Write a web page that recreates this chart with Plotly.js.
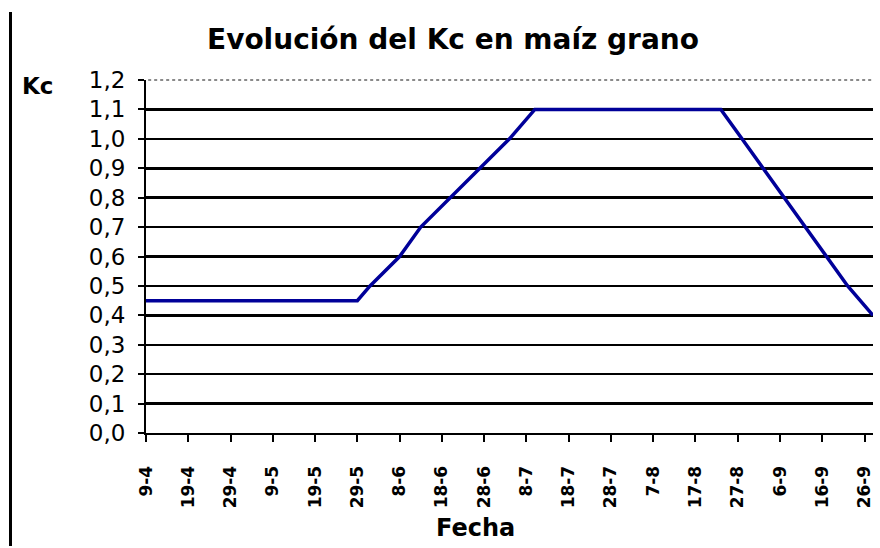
<!DOCTYPE html>
<html>
<head>
<meta charset="utf-8">
<script src="https://cdn.plot.ly/plotly-3.0.1.min.js"></script>
<style>html,body{margin:0;padding:0;background:#fff;}#chart{width:880px;height:548px;}</style>
</head>
<body>
<div id="chart"></div>
<script>
// Dates (year arbitrary, not shown) and Kc values
const fecha = ["2003-04-09","2003-05-29","2003-06-01","2003-06-08","2003-06-13","2003-06-20","2003-06-27","2003-07-04","2003-07-10","2003-08-23","2003-08-28","2003-09-02","2003-09-07","2003-09-12","2003-09-17","2003-09-22","2003-09-28"];
const kc = [0.45,0.45,0.50,0.60,0.70,0.80,0.90,1.00,1.10,1.10,1.00,0.90,0.80,0.70,0.60,0.50,0.40];

// Category tick positions and labels
const tickDates = ["2003-04-09","2003-04-19","2003-04-29","2003-05-09","2003-05-19","2003-05-29","2003-06-08","2003-06-18","2003-06-28","2003-07-08","2003-07-18","2003-07-28","2003-08-07","2003-08-17","2003-08-27","2003-09-06","2003-09-16","2003-09-26"];
const tickLabels = ["9-4","19-4","29-4","9-5","19-5","29-5","8-6","18-6","28-6","8-7","18-7","28-7","7-8","17-8","27-8","6-9","16-9","26-9"];
const xRange = ["2003-04-09","2003-09-28"];
const yRange = [0, 1.2];

const trace = {
  x: fecha, y: kc, type: 'scatter', mode: 'lines',
  line: {color: '#000099', width: 3.5},
  hoverinfo: 'skip'
};

const layout = {
  width: 880, height: 548,
  margin: {l: 146, r: 7, t: 80, b: 115},
  paper_bgcolor: '#ffffff', plot_bgcolor: '#ffffff',
  separators: ',.',
  showlegend: false,
  font: {family: 'DejaVu Sans', color: '#000'},
  title: {
    text: 'Evolución del Kc en maíz grano',
    font: {family: 'DejaVu Sans', size: 28, color: '#000', weight: 'bold'},
    x: 453/880, xanchor: 'center', xref: 'container',
    y: 1 - 39/548, yanchor: 'middle', yref: 'container'
  },
  xaxis: {
    type: 'date', range: xRange,
    tickmode: 'array', tickvals: tickDates, ticktext: tickLabels,
    tickangle: -90,
    tickfont: {family: 'DejaVu Sans', size: 17, color: '#000', weight: 'bold'},
    ticks: 'outside', ticklen: 7, tickwidth: 2, tickcolor: '#000',
    ticklabelstandoff: 17,
    showline: true, linecolor: '#000', linewidth: 2,
    showgrid: false, zeroline: false
  },
  yaxis: {
    range: yRange, dtick: 0.1, tick0: 0, tickformat: '.1f',
    tickfont: {family: 'DejaVu Sans', size: 23, color: '#000'},
    ticks: 'outside', ticklen: 6, tickwidth: 2, tickcolor: '#000',
    ticklabelstandoff: 8,
    showline: true, linecolor: '#000', linewidth: 2,
    showgrid: true, gridcolor: '#000', gridwidth: 2.5,
    zeroline: false
  },
  annotations: [{
    text: 'Kc', xref: 'paper', yref: 'paper',
    x: (37 - 146) / 727, y: (433 - 86) / 353,
    xanchor: 'center', yanchor: 'middle', showarrow: false,
    font: {family: 'DejaVu Sans', size: 23, color: '#000', weight: 'bold'}
  }, {
    text: 'Fecha', xref: 'paper', yref: 'paper',
    x: (475 - 146) / 727, y: (433 - 528) / 353,
    xanchor: 'center', yanchor: 'middle', showarrow: false,
    font: {family: 'DejaVu Sans', size: 24, color: '#000', weight: 'bold'}
  }],
  shapes: [
    {type: 'line', xref: 'paper', yref: 'paper', x0: 0.003, x1: 1, y0: 1, y1: 1,
     line: {color: '#ffffff', width: 4}, layer: 'above'},
    {type: 'line', xref: 'paper', yref: 'paper', x0: 0.003, x1: 1, y0: 1, y1: 1,
     line: {color: '#8a8a8a', width: 2, dash: 'dot'}, layer: 'above'},
    {type: 'line', xref: 'paper', yref: 'paper',
     x0: (10.5 - 146) / 727, x1: (10.5 - 146) / 727,
     y0: (433 - 546) / 353, y1: (433 - 12) / 353,
     line: {color: '#000', width: 3}, layer: 'above'}
  ]
};

Plotly.newPlot('chart', [trace], layout, {displayModeBar: false, staticPlot: true});
</script>
</body>
</html>
